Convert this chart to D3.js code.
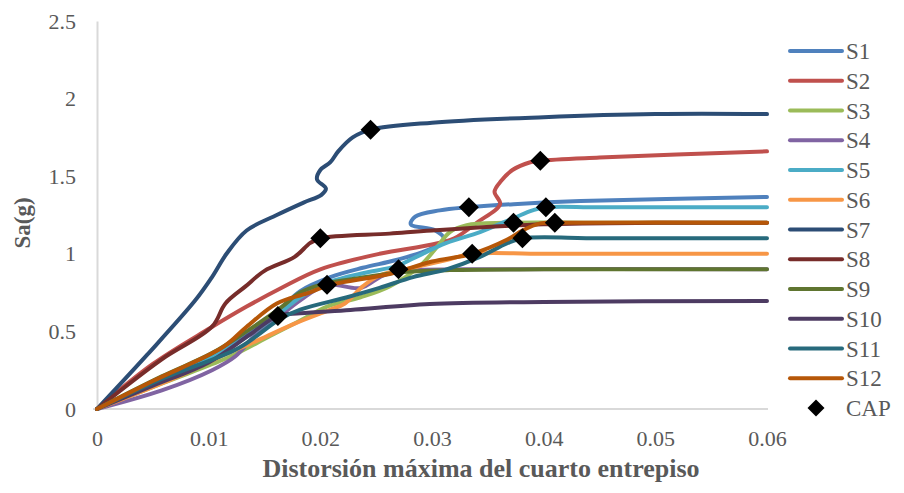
<!DOCTYPE html>
<html>
<head>
<meta charset="utf-8">
<script src="https://cdn.jsdelivr.net/npm/d3@7"></script>
<style>
  body { margin: 0; background: #fff; }
  svg { display: block; font-family: "Liberation Serif", "Times New Roman", serif; }
  .tick-label { font-size: 22px; fill: #595959; }
  .axis-title { font-weight: bold; fill: #595959; }
  .legend-label { font-size: 23px; fill: #595959; }
</style>
</head>
<body>
<svg id="chart" width="904" height="493"></svg>
<script>
// Series data: [drift, Sa(g)] pairs
const S1 = [[0,0],[0.005,0.17],[0.01,0.33],[0.0141,0.52],[0.0165,0.65],[0.0182,0.76],[0.0209,0.85],[0.0238,0.91],[0.0268,0.96],[0.0295,1.02],[0.0311,1.09],[0.0303,1.15],[0.0281,1.19],[0.0285,1.24],[0.0307,1.28],[0.0333,1.3],[0.0373,1.32],[0.0433,1.34],[0.06,1.366]];
const S2 = [[0,0],[0.005,0.29],[0.0101,0.52],[0.0134,0.66],[0.0165,0.78],[0.02,0.9],[0.0253,1.0],[0.03,1.06],[0.032,1.1],[0.034,1.2],[0.0361,1.32],[0.0356,1.4],[0.0362,1.47],[0.0372,1.54],[0.0388,1.59],[0.0397,1.6],[0.045,1.62],[0.06,1.66]];
const S3 = [[0,0],[0.006,0.17],[0.0117,0.33],[0.0155,0.47],[0.0182,0.57],[0.0206,0.66],[0.0236,0.72],[0.0262,0.79],[0.0289,0.92],[0.0304,1.04],[0.0316,1.14],[0.0331,1.185],[0.0367,1.2],[0.045,1.2],[0.06,1.2]];
const S4 = [[0,0],[0.0058,0.12],[0.0103,0.25],[0.0124,0.34],[0.0141,0.47],[0.0159,0.57],[0.0182,0.7],[0.0206,0.8],[0.0236,0.78],[0.0256,0.86],[0.0275,0.89],[0.033,0.9],[0.06,0.9]];
const S5 = [[0,0],[0.005,0.16],[0.01,0.32],[0.0133,0.46],[0.0164,0.62],[0.0182,0.72],[0.0209,0.82],[0.0238,0.875],[0.0268,0.92],[0.0283,0.97],[0.0313,1.07],[0.0343,1.14],[0.0373,1.23],[0.039,1.28],[0.0402,1.3],[0.045,1.3],[0.06,1.3]];
const S6 = [[0,0],[0.0073,0.21],[0.0117,0.36],[0.0137,0.42],[0.0177,0.55],[0.0209,0.64],[0.0222,0.68],[0.0238,0.79],[0.0253,0.86],[0.0283,0.91],[0.0313,0.96],[0.0336,1.0],[0.04,1.0],[0.06,1.0]];
const S7 = [[0,0],[0.0045,0.35],[0.0088,0.7],[0.0103,0.85],[0.0116,1.0],[0.0134,1.15],[0.0161,1.25],[0.0185,1.33],[0.0201,1.38],[0.0205,1.42],[0.0197,1.48],[0.02,1.54],[0.0209,1.59],[0.0216,1.66],[0.0229,1.75],[0.0245,1.8],[0.03,1.845],[0.04,1.88],[0.05,1.9],[0.06,1.9]];
const S8 = [[0,0],[0.0058,0.32],[0.0103,0.53],[0.0115,0.68],[0.0133,0.79],[0.015,0.89],[0.0177,0.98],[0.0191,1.07],[0.02,1.1],[0.0262,1.13],[0.03,1.15],[0.04,1.19],[0.05,1.2],[0.06,1.2]];
const S9 = [[0,0],[0.0058,0.21],[0.0103,0.36],[0.0134,0.5],[0.0164,0.65],[0.0182,0.75],[0.02,0.8],[0.0241,0.85],[0.027,0.88],[0.0316,0.895],[0.04,0.9],[0.06,0.9]];
const S10 = [[0,0],[0.005,0.15],[0.01,0.3],[0.0137,0.48],[0.0162,0.6],[0.0182,0.617],[0.0227,0.638],[0.0298,0.677],[0.04,0.69],[0.06,0.696]];
const S11 = [[0,0],[0.006,0.2],[0.0126,0.39],[0.0164,0.58],[0.0182,0.64],[0.0224,0.72],[0.0253,0.78],[0.0283,0.85],[0.0313,0.9],[0.0343,0.98],[0.0367,1.067],[0.0381,1.1],[0.045,1.1],[0.06,1.1]];
const S12 = [[0,0],[0.005,0.18],[0.0113,0.4],[0.0134,0.53],[0.0161,0.68],[0.0188,0.745],[0.0209,0.8],[0.0262,0.87],[0.03,0.95],[0.0336,1.0],[0.0367,1.09],[0.0381,1.15],[0.0397,1.196],[0.041,1.2],[0.06,1.2]];

const seriesNames = ["S1","S2","S3","S4","S5","S6","S7","S8","S9","S10","S11","S12"];
const seriesData = [S1,S2,S3,S4,S5,S6,S7,S8,S9,S10,S11,S12];
const seriesColors = ["#4F81BD","#C0504D","#9BBB59","#8064A2","#4BACC6","#F79646","#2C4D75","#772C2A","#5F7530","#4D3B62","#276A7C","#B65708"];

// CAP points (collapse prevention)
const capDrift = [0.0333,0.0397,0.0373,0.0206,0.0402,0.0336,0.0245,0.02,0.027,0.0162,0.0381,0.041];
const capSa = [1.3,1.6,1.2,0.8,1.3,1.0,1.8,1.1,0.9,0.6,1.1,1.2];

const xTicks = [0,0.01,0.02,0.03,0.04,0.05,0.06];
const yTicks = [0,0.5,1,1.5,2,2.5];

const svg = d3.select("#chart");

const x = d3.scaleLinear().domain([0, 0.06]).range([97, 767]);
const y = d3.scaleLinear().domain([0, 2.5]).range([409, 21]);

// Axes (no tick marks, light grey lines)
svg.append("g")
  .attr("transform", `translate(0,${y(0)})`)
  .call(d3.axisBottom(x).tickValues(xTicks).tickSize(0).tickPadding(21).tickFormat(d => d === 0 ? "0" : d3.format(".2f")(d)))
  .call(g => g.select(".domain").attr("stroke", "#D9D9D9").attr("stroke-width", 2).attr("d", `M${x(0) - 4},0H${x(0.06) + 1}`))
  .call(g => g.selectAll("text").attr("class", "tick-label").attr("fill", null));

svg.append("g")
  .attr("transform", `translate(${x(0)},0)`)
  .call(d3.axisLeft(y).tickValues(yTicks).tickSize(0).tickPadding(21).tickFormat(d3.format("")))
  .call(g => g.select(".domain").attr("stroke", "#D9D9D9").attr("stroke-width", 2))
  .call(g => g.selectAll("text").attr("class", "tick-label").attr("fill", null));

svg.selectAll("g").attr("font-family", null).attr("font-size", null);

// Lines
const line = d3.line()
  .x(d => x(d[0]))
  .y(d => y(d[1]))
  .curve(d3.curveCatmullRom.alpha(0.5));

svg.append("g")
  .selectAll("path")
  .data(seriesData)
  .join("path")
  .attr("d", line)
  .attr("fill", "none")
  .attr("stroke", (d, i) => seriesColors[i])
  .attr("stroke-width", 4)
  .attr("stroke-linecap", "round")
  .attr("stroke-linejoin", "round");

// CAP markers
const diamond = r => `M0,${-r}L${r},0L0,${r}L${-r},0Z`;
svg.append("g")
  .selectAll("path")
  .data(capDrift)
  .join("path")
  .attr("transform", (d, i) => `translate(${x(d)},${y(capSa[i])})`)
  .attr("d", diamond(10))
  .attr("fill", "#000");

// Legend
const legend = svg.append("g");
seriesNames.forEach((name, i) => {
  const ly = 51 + i * 29.75;
  legend.append("line")
    .attr("x1", 790).attr("x2", 842)
    .attr("y1", ly).attr("y2", ly)
    .attr("stroke", seriesColors[i])
    .attr("stroke-width", 4)
    .attr("stroke-linecap", "round");
  legend.append("text")
    .attr("class", "legend-label")
    .attr("x", 846).attr("y", ly + 8)
    .text(name);
});
const capY = 51 + 12 * 29.75;
legend.append("path")
  .attr("transform", `translate(816,${capY})`)
  .attr("d", diamond(8.5))
  .attr("fill", "#000");
legend.append("text")
  .attr("class", "legend-label")
  .attr("x", 846).attr("y", capY + 8)
  .text("CAP");

// Axis titles
svg.append("text")
  .attr("class", "axis-title")
  .attr("font-size", 26)
  .attr("x", 481).attr("y", 477)
  .attr("text-anchor", "middle")
  .text("Distorsión máxima del cuarto entrepiso");

svg.append("text")
  .attr("class", "axis-title")
  .attr("font-size", 23)
  .attr("transform", "translate(30,223) rotate(-90)")
  .attr("text-anchor", "middle")
  .text("Sa(g)");
</script>
</body>
</html>
